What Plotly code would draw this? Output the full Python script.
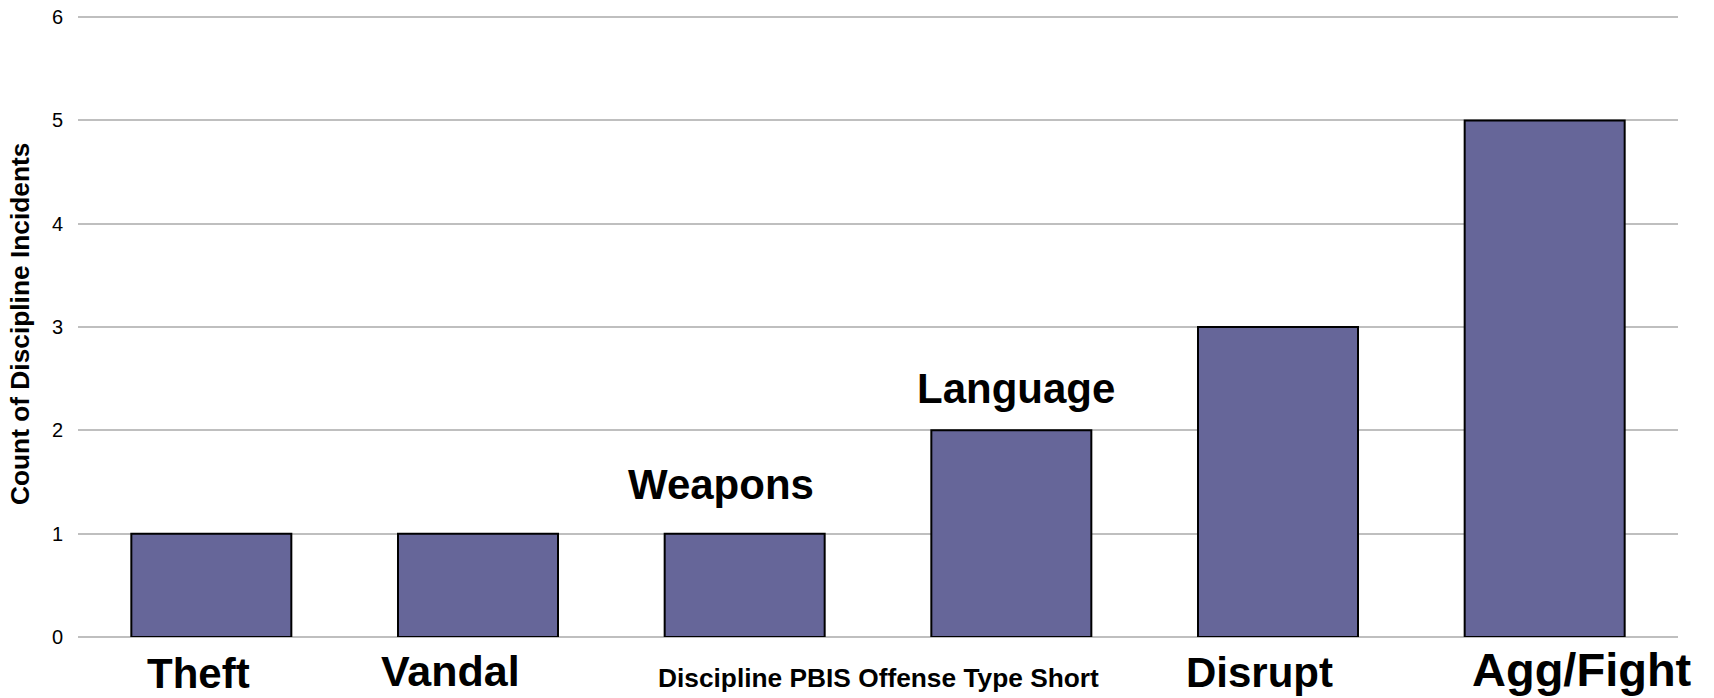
import plotly.graph_objects as go

# ---- data ----
categories = ["Theft", "Vandal", "Weapons", "Language", "Disrupt", "Agg/Fight"]
counts = [1, 1, 1, 2, 3, 5]
y_ticks = [0, 1, 2, 3, 4, 5, 6]
x_title = "Discipline PBIS Offense Type Short"
y_title = "Count of Discipline Incidents"

# ---- styles (label placement as rendered in the original) ----
FONT = "Liberation Sans, Arial, sans-serif"
BAR_COLOR = "#666699"
GRID = "#BFBFBF"
# per-category label: (font size, xshift px, anchor mode, yshift px)
label_style = {
    "Theft": (42, -13, "below", -36),
    "Vandal": (43, -28, "below", -34),
    "Weapons": (42, -24, "above", 49),
    "Language": (42, 5, "above", 42),
    "Disrupt": (42, -19, "below", -35),
    "Agg/Fight": (47, 37, "below", -32),
}

fig = go.Figure(
    go.Bar(
        x=categories,
        y=counts,
        marker=dict(color=BAR_COLOR, line=dict(color="#000000", width=2)),
        hoverinfo="skip",
    )
)

annotations = []
for cat, val in zip(categories, counts):
    size, xs, mode, ys = label_style[cat]
    if mode == "below":
        annotations.append(dict(x=cat, xref="x", y=0, yref="paper", yanchor="middle",
                                xanchor="center", text=cat, showarrow=False,
                                xshift=xs, yshift=ys,
                                font=dict(family=FONT, size=size, color="#000000", weight="bold")))
    else:
        annotations.append(dict(x=cat, xref="x", y=val, yref="y", yanchor="middle",
                                xanchor="center", text=cat, showarrow=False,
                                xshift=xs, yshift=ys,
                                font=dict(family=FONT, size=size, color="#000000", weight="bold")))

annotations.append(dict(x=0.5, xref="paper", y=0, yref="paper", xanchor="center", yanchor="middle",
                        yshift=-41, text=x_title, showarrow=False,
                        font=dict(family=FONT, size=26.3, color="#000000", weight="bold")))
annotations.append(dict(x=0, xref="paper", y=0.5, yref="paper", xanchor="center", yanchor="middle",
                        xshift=-58, yshift=2, text=y_title, showarrow=False, textangle=-90,
                        font=dict(family=FONT, size=26.3, color="#000000", weight="bold")))

fig.update_layout(
    width=1714,
    height=698,
    margin=dict(l=78, r=36, t=15, b=61, autoexpand=False),
    paper_bgcolor="white",
    plot_bgcolor="white",
    bargap=0.4,
    showlegend=False,
    annotations=annotations,
    font=dict(family=FONT, color="#000000"),
    xaxis=dict(range=[-0.5, len(categories) - 0.5], autorange=False, automargin=False,
               showticklabels=False, showgrid=False, showline=False, zeroline=False,
               ticks=""),
    yaxis=dict(range=[0, 6.02], autorange=False, automargin=False, tickvals=y_ticks,
               showgrid=True, gridcolor=GRID, gridwidth=1.5,
               zeroline=True, zerolinecolor=GRID, zerolinewidth=1.5, showline=False,
               ticks="", tickfont=dict(family=FONT, size=20, color="#000000"),
               ticklabelstandoff=14),
)

fig.write_html("out.html")
